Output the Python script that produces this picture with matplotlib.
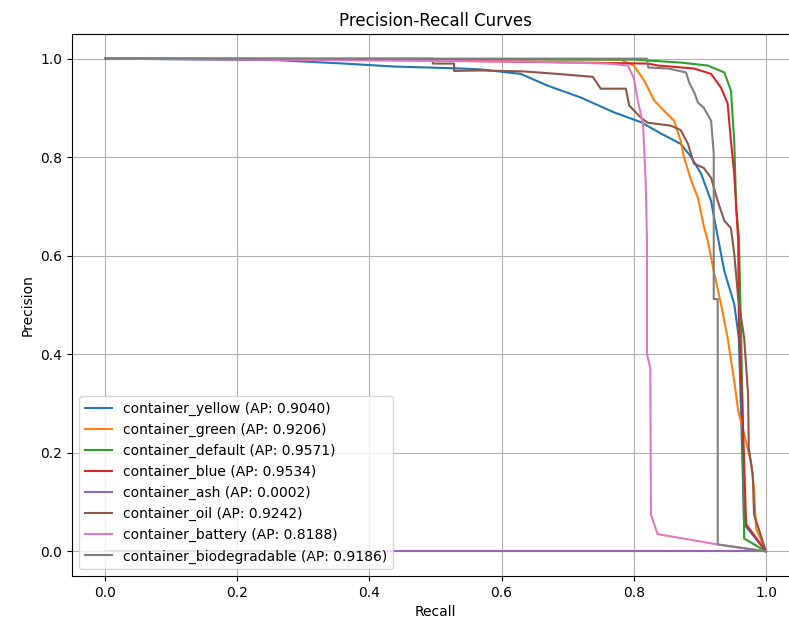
import matplotlib
matplotlib.use("Agg")
import matplotlib.pyplot as plt

names = ["container_yellow", "container_green", "container_default", "container_blue",
         "container_ash", "container_oil", "container_battery", "container_biodegradable"]
ap_values = [0.9040, 0.9206, 0.9571, 0.9534, 0.0002, 0.9242, 0.8188, 0.9186]

recall_yellow = [0, 0.26, 0.317, 0.362, 0.437, 0.539, 0.569, 0.629, 0.67, 0.72, 0.77, 0.811, 0.841,
                 0.871, 0.887, 0.902, 0.917, 0.924, 0.937, 0.952, 0.959, 0.963, 0.967, 1.0]
precision_yellow = [1, 0.997, 0.993, 0.99, 0.984, 0.98, 0.978, 0.969, 0.945, 0.921, 0.891, 0.871, 0.848,
                    0.827, 0.80, 0.766, 0.711, 0.66, 0.569, 0.502, 0.433, 0.25, 0.055, 0]

recall_green = [0, 0.78, 0.80, 0.816, 0.831, 0.846, 0.861, 0.871, 0.876, 0.887, 0.897, 0.906, 0.912,
                0.921, 0.932, 0.942, 0.952, 0.958, 0.967, 0.977, 0.982, 0.985, 1.0]
precision_green = [1, 0.998, 0.986, 0.955, 0.915, 0.894, 0.874, 0.833, 0.80, 0.752, 0.718, 0.66, 0.63,
                   0.569, 0.502, 0.433, 0.346, 0.285, 0.238, 0.183, 0.128, 0.047, 0]

recall_default = [0, 0.80, 0.871, 0.912, 0.937, 0.947, 0.952, 0.955, 0.959, 0.962, 0.965, 0.967, 1.0]
precision_default = [1, 0.998, 0.992, 0.986, 0.972, 0.935, 0.833, 0.697, 0.64, 0.467, 0.264, 0.026, 0]

recall_blue = [0, 0.40, 0.821, 0.837, 0.891, 0.917, 0.932, 0.942, 0.947, 0.952, 0.958, 0.959, 0.965, 0.97, 1.0]
precision_blue = [1, 0.998, 0.99, 0.986, 0.98, 0.969, 0.941, 0.909, 0.833, 0.766, 0.63, 0.467, 0.264, 0.055, 0]

recall_ash = [0, 1.0]
precision_ash = [0, 0]

recall_oil = [0, 0.496, 0.496, 0.528, 0.528, 0.569, 0.634, 0.685, 0.738, 0.75, 0.788, 0.793, 0.811,
              0.821, 0.856, 0.871, 0.882, 0.891, 0.906, 0.917, 0.927, 0.937, 0.947, 0.952, 0.958,
              0.967, 0.973, 0.974, 0.98, 0.982, 1.0]
precision_oil = [1, 1, 0.99, 0.99, 0.975, 0.976, 0.974, 0.969, 0.963, 0.939, 0.939, 0.905, 0.88,
                 0.87, 0.864, 0.855, 0.827, 0.787, 0.778, 0.758, 0.711, 0.671, 0.656, 0.604, 0.514,
                 0.433, 0.319, 0.209, 0.157, 0.075, 0]

recall_battery = [0, 0.644, 0.761, 0.791, 0.80, 0.806, 0.814, 0.818, 0.82, 0.82, 0.825, 0.826, 0.836, 0.927, 1.0]
precision_battery = [1, 0.994, 0.99, 0.986, 0.961, 0.915, 0.868, 0.752, 0.63, 0.40, 0.372, 0.075, 0.035, 0.014, 0]

recall_bio = [0, 0.82, 0.822, 0.852, 0.879, 0.884, 0.892, 0.897, 0.906, 0.917, 0.921, 0.921, 0.927, 0.927, 1.0]
precision_bio = [1, 1.0, 0.982, 0.98, 0.972, 0.951, 0.93, 0.911, 0.90, 0.874, 0.807, 0.512, 0.512, 0.014, 0]

recalls = [recall_yellow, recall_green, recall_default, recall_blue,
           recall_ash, recall_oil, recall_battery, recall_bio]
precisions = [precision_yellow, precision_green, precision_default, precision_blue,
              precision_ash, precision_oil, precision_battery, precision_bio]

fig = plt.figure(figsize=(7.89, 6.24), dpi=100)
ax = fig.add_axes([72 / 789, 48 / 624, 727 / 789, 542 / 624])
for name, ap, r, p in zip(names, ap_values, recalls, precisions):
    ax.plot(r, p, label=f"{name} (AP: {ap:.4f})")
ax.set_xlabel("Recall")
ax.set_ylabel("Precision")
ax.set_title("Precision-Recall Curves")
ax.legend(loc="lower left")
ax.grid(True)
fig.savefig("out.png", dpi=100)
